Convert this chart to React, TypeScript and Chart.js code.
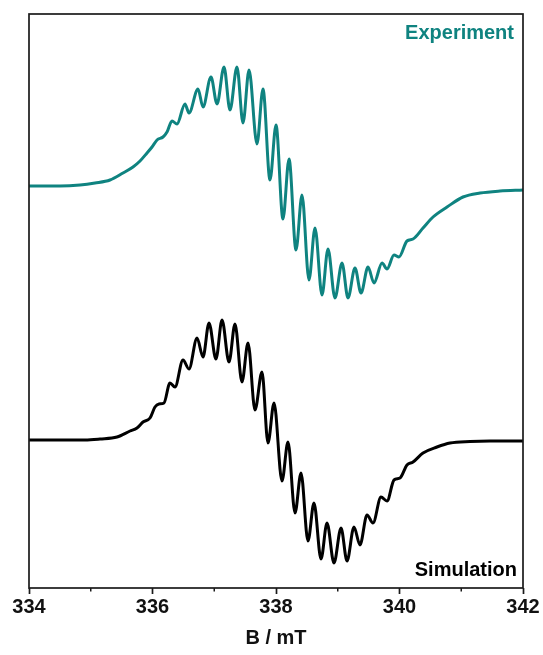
import { useEffect, useRef } from 'react';
import { Chart, registerables } from 'chart.js';

Chart.register(...registerables);

// Magnetic field (mT) and signal (arbitrary units, offset traces)
const expField = [
  334.0, 334.502, 334.826, 335.069, 335.312, 335.522, 335.684, 335.798, 335.911, 335.992,
  336.073, 336.17, 336.235, 336.316, 336.397, 336.526, 336.591, 336.737, 336.818, 336.947,
  337.045, 337.158, 337.255, 337.368, 337.466, 337.563, 337.692, 337.789, 337.903, 338.0,
  338.113, 338.211, 338.324, 338.421, 338.534, 338.632, 338.745, 338.842, 338.955, 339.069,
  339.166, 339.279, 339.377, 339.49, 339.587, 339.717, 339.798, 339.911, 339.992, 340.121,
  340.219, 340.381, 340.543, 340.77, 341.028, 341.304, 341.628, 342.0,
];
const expSignal = [
  402, 402, 403, 405, 408, 415, 421, 427, 435, 441,
  448, 451, 456, 467, 464, 484, 475, 499, 481, 511,
  484, 521, 478, 521, 465, 518, 444, 499, 408, 463,
  369, 429, 338, 393, 308, 360, 293, 339, 290, 325,
  290, 320, 295, 321, 305, 325, 319, 333, 331, 347,
  349, 360, 371, 381, 391, 395, 397, 398,
];
const simField = [
  334.0, 334.502, 334.907, 335.15, 335.425, 335.636, 335.749, 335.846, 335.96, 336.04,
  336.105, 336.186, 336.283, 336.364, 336.494, 336.591, 336.721, 336.818, 336.915, 337.028,
  337.126, 337.239, 337.336, 337.449, 337.547, 337.66, 337.773, 337.87, 337.968, 338.097,
  338.194, 338.308, 338.405, 338.518, 338.615, 338.729, 338.826, 338.939, 339.053, 339.15,
  339.263, 339.36, 339.474, 339.571, 339.7, 339.798, 339.911, 340.008, 340.121, 340.219,
  340.381, 340.607, 340.818, 341.142, 341.466, 342.0,
];
const simSignal = [
  148, 148, 148, 149, 151, 157, 160, 166, 170, 181,
  184, 185, 205, 201, 228, 219, 250, 231, 265, 229,
  268, 226, 264, 206, 245, 178, 216, 145, 185, 107,
  146, 75, 115, 47, 85, 29, 65, 25, 60, 27,
  61, 43, 73, 65, 91, 87, 108, 110, 123, 126,
  135, 141, 145, 146.5, 147, 147,
];
const xMajorTicks = [334, 336, 338, 340, 342];
const xMinorTicks = [335, 337, 339, 341];
const seriesLabels = ['Experiment', 'Simulation'];
const seriesColors = ['#0f8380', '#000000'];
const axisTitle = 'B / mT';

const FONT = "'Liberation Sans', Arial, sans-serif";

export default function App() {
  const ref = useRef<HTMLCanvasElement | null>(null);

  useEffect(() => {
    document.body.style.margin = '0';
    const canvas = ref.current;
    if (!canvas) return;

    const framePlugin = {
      id: 'framePlugin',
      afterDraw(chart: any) {
        const { ctx, chartArea } = chart;
        const xs = chart.scales.x;
        ctx.save();
        ctx.strokeStyle = '#1a1a1a';
        ctx.lineWidth = 1.7;
        ctx.strokeRect(chartArea.left, chartArea.top, chartArea.right - chartArea.left, chartArea.bottom - chartArea.top);
        ctx.lineWidth = 1.5;
        xMinorTicks.forEach((v) => {
          const px = xs.getPixelForValue(v);
          ctx.beginPath();
          ctx.moveTo(px, chartArea.bottom);
          ctx.lineTo(px, chartArea.bottom + 3.5);
          ctx.stroke();
        });
        ctx.font = `bold 20px ${FONT}`;
        ctx.textAlign = 'right';
        ctx.textBaseline = 'middle';
        ctx.fillStyle = seriesColors[0];
        ctx.fillText(seriesLabels[0], chartArea.right - 9, chartArea.top + 19);
        ctx.fillStyle = seriesColors[1];
        ctx.fillText(seriesLabels[1], chartArea.right - 6, chartArea.bottom - 18);
        ctx.restore();
      },
    };

    const chart = new Chart(canvas, {
      type: 'line',
      data: {
        datasets: [
          {
            label: seriesLabels[0],
            data: expField.map((x, i) => ({ x, y: expSignal[i] })),
            borderColor: seriesColors[0],
            borderWidth: 3,
            pointRadius: 0,
            fill: false,
            cubicInterpolationMode: 'monotone',
          },
          {
            label: seriesLabels[1],
            data: simField.map((x, i) => ({ x, y: simSignal[i] })),
            borderColor: seriesColors[1],
            borderWidth: 3,
            pointRadius: 0,
            fill: false,
            cubicInterpolationMode: 'monotone',
          },
        ],
      },
      options: {
        responsive: false,
        animation: false,
        layout: { padding: { left: 29, right: 20, top: 14, bottom: 0 } },
        plugins: {
          legend: { display: false },
          tooltip: { enabled: false },
          title: { display: false },
        },
        scales: {
          x: {
            type: 'linear',
            min: 334,
            max: 342,
            afterFit: (scale: any) => {
              scale.height = 67;
            },
            afterBuildTicks: (scale: any) => {
              scale.ticks = xMajorTicks.map((v) => ({ value: v }));
            },
            border: { display: false },
            grid: {
              display: true,
              drawOnChartArea: false,
              drawTicks: true,
              tickLength: 6,
              tickWidth: 1.7,
              tickColor: '#1a1a1a',
            },
            ticks: {
              padding: 1,
              color: '#111',
              maxRotation: 0,
              autoSkip: false,
              font: { family: FONT, size: 20, weight: 'bold' },
              callback: (v: any) => String(v),
            },
            title: {
              display: true,
              text: axisTitle,
              color: '#111',
              padding: { top: 0, bottom: 5 },
              font: { family: FONT, size: 20, weight: 'bold' },
            },
          },
          y: {
            type: 'linear',
            min: 0,
            max: 574,
            display: false,
          },
        },
      },
      plugins: [framePlugin],
    } as any);

    return () => chart.destroy();
  }, []);

  return (
    <div style={{ width: 543, height: 655 }}>
      <canvas ref={ref} width={543} height={655} style={{ display: 'block' }} />
    </div>
  );
}
